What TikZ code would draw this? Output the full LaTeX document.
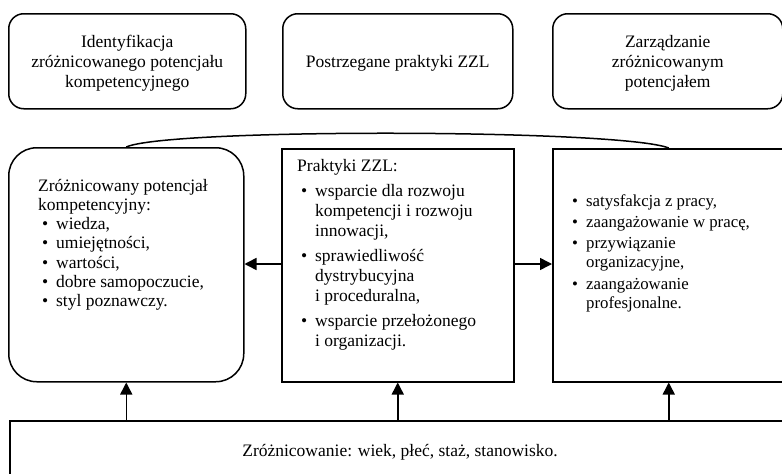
\documentclass[tikz,border=0pt]{standalone}
\usepackage{fontspec}
\setmainfont{Liberation Serif}
\usetikzlibrary{arrows.meta}
\newcommand\bul{\hspace*{4pt}\makebox[14pt][l]{\textbullet}}
\newcommand\cont{\hspace*{18pt}}
\begin{document}
\begin{tikzpicture}[x=1pt,y=-1pt,
  box/.style={draw, line width=1.5pt, inner sep=0pt, anchor=north west},
  topbox/.style={box, rounded corners=15pt, minimum height=95pt},
  midbox/.style={box, minimum height=233pt, minimum width=232pt},
  txt/.style={inner sep=0pt, anchor=north west, align=left},
  head/.style={inner sep=0pt, font=\fontsize{17.5}{20}\selectfont, align=center},
  arr/.style={line width=1.5pt, -{Triangle[length=12pt,width=12pt]}},
  link/.style={line width=1.5pt}]
\useasboundingbox (0,0) rectangle (782,474);
\clip (0,0) rectangle (782,474);

% top row
\node[topbox, minimum width=237pt] (t1) at (8,13) {};
\node[topbox, minimum width=230pt] (t2) at (282,13) {};
\node[topbox, minimum width=230pt] (t3) at (552,13) {};
\node[head] (t1text) at ([yshift=-2pt]t1.center) {Identyfikacja\\zróżnicowanego potencjału\\kompetencyjnego};
\node[head] (t2text) at ([yshift=-2pt]t2.center) {Postrzegane praktyki ZZL};
\node[head] (t3text) at ([yshift=-2pt]t3.center) {Zarządzanie\\zróżnicowanym\\potencjałem};

% middle row
\node[midbox, rounded corners=28pt, minimum width=235pt, minimum height=234pt] (l) at (8,147) {};
\node[midbox] (m) at (281,148) {};
\node[midbox] (r) at (552,148) {};

\node[txt, font=\fontsize{17.5}{19.2}\selectfont] (ltext) at (38,179) {Zróżnicowany potencjał\\kompetencyjny:\\
\bul wiedza,\\\bul umiejętności,\\\bul wartości,\\\bul dobre samopoczucie,\\\bul styl poznawczy.};
\node[txt, font=\fontsize{17.5}{20}\selectfont] (mtext) at (297,159) {Praktyki ZZL:\\[5pt]
\bul wsparcie dla rozwoju\\\cont kompetencji i rozwoju\\\cont innowacji,\\[5pt]
\bul sprawiedliwość\\\cont dystrybucyjna\\\cont i proceduralna,\\[5pt]
\bul wsparcie przełożonego\\\cont i organizacji.};
\node[txt, font=\fontsize{16.8}{19.3}\selectfont] (rtext) at (568,194) {\bul satysfakcja z pracy,\\[2pt]\bul zaangażowanie w pracę,\\[2pt]
\bul przywiązanie\\\cont organizacyjne,\\[2pt]\bul zaangażowanie\\\cont profesjonalne.};

% bottom box
\node[box, minimum width=782pt, minimum height=80pt] (b) at (9,420) {};
\node[head] (btext) at (400,452) {Zróżnicowanie: wiek, płeć, staż, stanowisko.};

% connectors
\coordinate (ay) at (0,264);
\draw[arr] (m.west |- ay) -- (l.east |- ay);
\draw[arr] (m.east |- ay) -- (r.west |- ay);
\draw[arr] (b.north -| l.south) -- (l.south);
\draw[arr] (b.north -| m.south) -- (m.south);
\draw[arr] (b.north -| r.south) -- (r.south);
\draw[link] (l.north) .. controls +(42,-19) and +(-48,-19) .. (r.north);
\end{tikzpicture}
\end{document}
